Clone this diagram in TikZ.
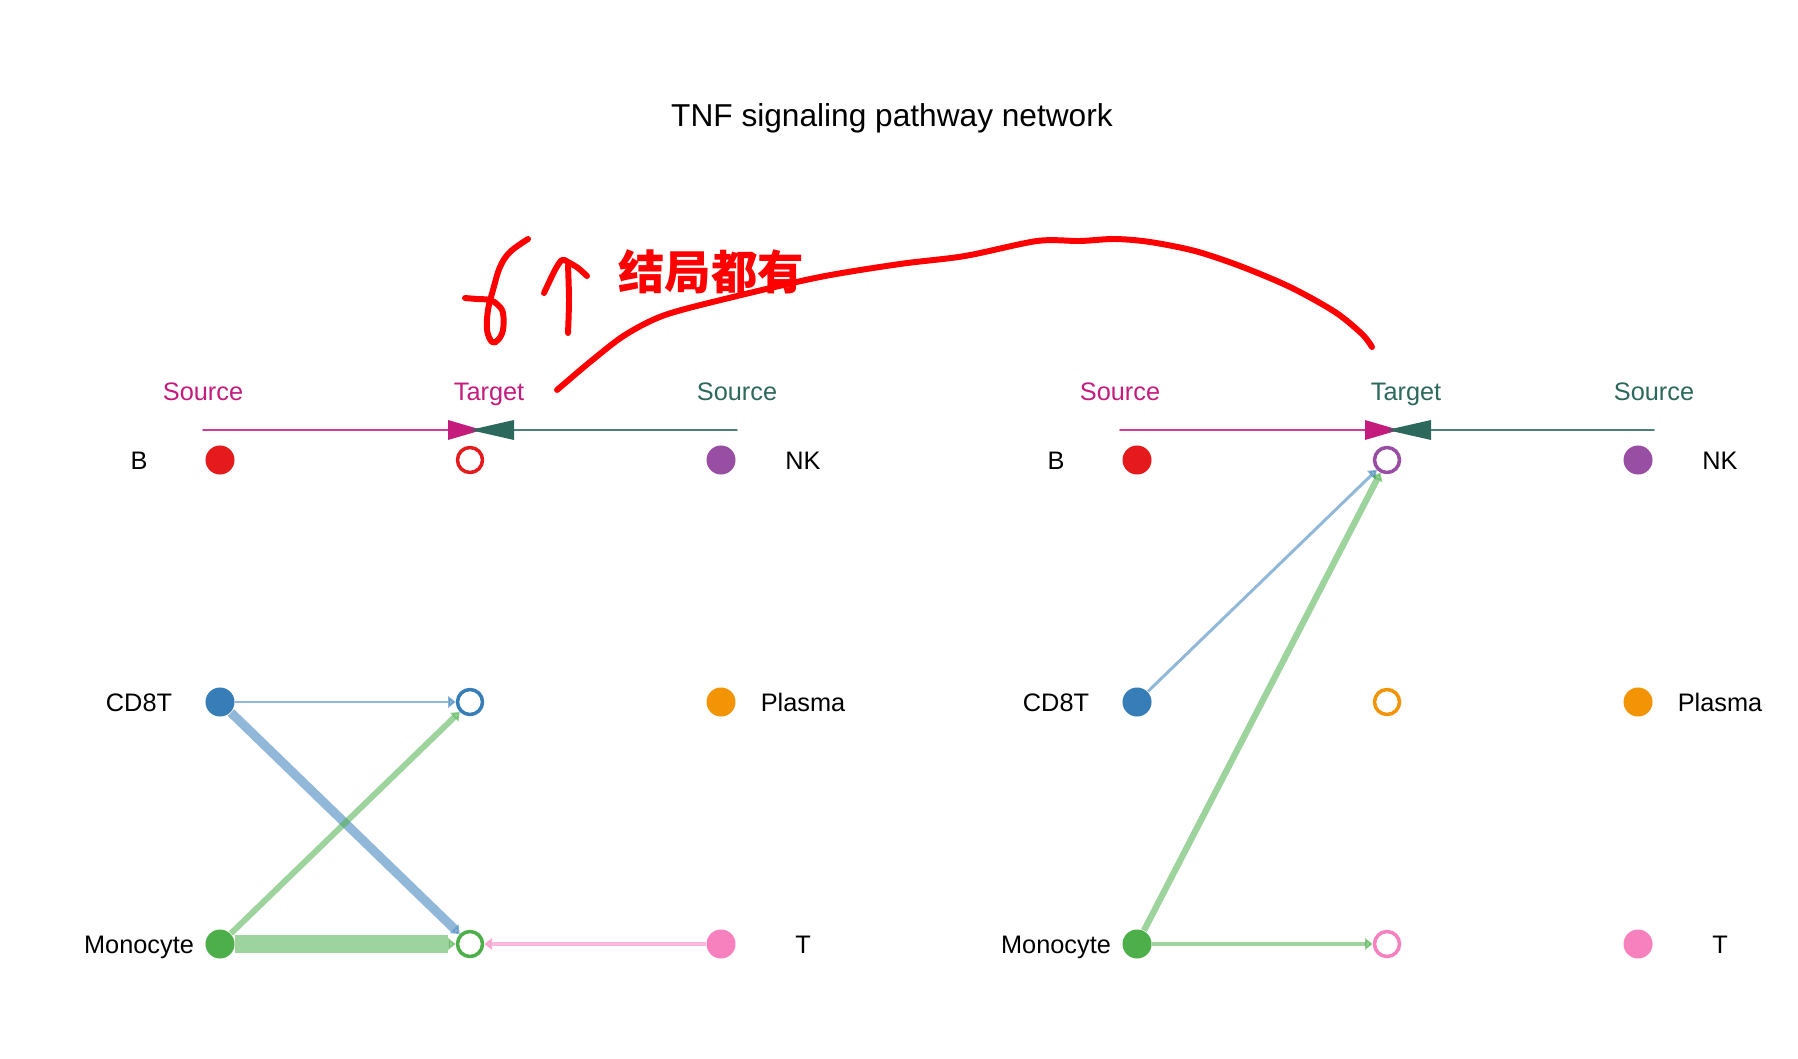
\documentclass[tikz,border=0pt]{standalone}
\usepackage{fontspec}
\setmainfont{Liberation Sans}
\newfontfamily\cjkfont{Noto Sans CJK SC}
\usetikzlibrary{arrows.meta}
\definecolor{cB}{HTML}{E41A1C}
\definecolor{cCD}{HTML}{377EB8}
\definecolor{cMo}{HTML}{4DAF4A}
\definecolor{cNK}{HTML}{984EA3}
\definecolor{cPl}{HTML}{F29403}
\definecolor{cT}{HTML}{F781BF}
\definecolor{srcmag}{HTML}{C51B7D}
\definecolor{srcteal}{HTML}{2C685C}
\begin{document}
\begin{tikzpicture}[x=0.01cm, y=-0.01cm, line join=round, line cap=round,
	font=\fontsize{7.2}{8.6}\selectfont,
	lab/.style={anchor=base, inner sep=0pt},
	src/.style={circle, fill=#1, minimum size=0.29cm, inner sep=0pt},
	tgt/.style={circle, draw=#1, fill=white, line width=1pt, minimum size=0.25cm, inner sep=0pt},
	link/.style={draw=#1, opacity=0.55, line cap=butt, -{Triangle[length=2.2pt,width=3.4pt]}},
	hand/.style={red, line width=1.7pt}]
	\useasboundingbox (0,0) rectangle (1798,1058);
	\def\dx{917} % right panel shift
	\node[anchor=base, font=\fontsize{9}{11}\selectfont] (title) at (892,127) {TNF signaling pathway network};
	% headers, left
	\node[lab, text=srcmag] (hs1) at (203,400) {Source};
	\node[lab, text=srcmag] (ht1) at (489,400) {Target};
	\node[lab, text=srcteal] (hr1) at (737,400) {Source};
	\coordinate (ml1) at (203,430); \coordinate (mt1) at (448,430);
	\coordinate (rl1) at (737,430); \coordinate (rt1) at (514,430);
	\draw[srcmag!85, line width=0.5pt] (ml1)--(mt1);
	\fill[srcmag] (448,420)--(482,430)--(448,440)--cycle;
	\draw[srcteal!85, line width=0.5pt] (rl1)--(rt1);
	\fill[srcteal] (514,420)--(470,430)--(514,440)--cycle;
	% headers, right
	\node[lab, text=srcmag] (hs2) at (203+\dx,400) {Source};
	\node[lab, text=srcteal] (ht2) at (489+\dx,400) {Target};
	\node[lab, text=srcteal] (hr2) at (737+\dx,400) {Source};
	\coordinate (ml2) at (203+\dx,430); \coordinate (mt2) at (448+\dx,430);
	\coordinate (rl2) at (737+\dx,430); \coordinate (rt2) at (514+\dx,430);
	\draw[srcmag!85, line width=0.5pt] (ml2)--(mt2);
	\fill[srcmag] (448+\dx,420)--(482+\dx,430)--(448+\dx,440)--cycle;
	\draw[srcteal!85, line width=0.5pt] (rl2)--(rt2);
	\fill[srcteal] (514+\dx,420)--(470+\dx,430)--(514+\dx,440)--cycle;
	% left panel
	\node[lab] (lB1) at (139,469) {B};
	\node[src=cB] (sB1) at (220,460) {};
	\node[tgt=cB] (tB1) at (470,460) {};
	\node[src=cNK] (sNK1) at (721,460) {};
	\node[lab] (lNK1) at (803,469) {NK};
	\node[lab] (lCD1) at (139,711) {CD8T};
	\node[src=cCD] (sCD1) at (220,702) {};
	\node[tgt=cCD] (tCD1) at (470,702) {};
	\node[src=cPl] (sPl1) at (721,702) {};
	\node[lab] (lPl1) at (803,711) {Plasma};
	\node[lab] (lMo1) at (139,953) {Monocyte};
	\node[src=cMo] (sMo1) at (220,944) {};
	\node[tgt=cMo] (tMo1) at (470,944) {};
	\node[src=cT] (sT1) at (721,944) {};
	\node[lab] (lT1) at (803,953) {T};
	\draw[link=cCD, line width=0.7pt] (sCD1)--(tCD1);
	\draw[link=cCD, line width=2.6pt] (sCD1)--(tMo1);
	\draw[link=cMo, line width=1.7pt] (sMo1)--(tCD1);
	\draw[link=cMo, line width=4.9pt] (sMo1)--(tMo1);
	\draw[link=cT, line width=0.9pt] (sT1)--(tMo1);
	% right panel
	\node[lab] (lB2) at (139+\dx,469) {B};
	\node[src=cB] (sB2) at (220+\dx,460) {};
	\node[tgt=cNK] (tNK2) at (470+\dx,460) {};
	\node[src=cNK] (sNK2) at (721+\dx,460) {};
	\node[lab] (lNK2) at (803+\dx,469) {NK};
	\node[lab] (lCD2) at (139+\dx,711) {CD8T};
	\node[src=cCD] (sCD2) at (220+\dx,702) {};
	\node[tgt=cPl] (tPl2) at (470+\dx,702) {};
	\node[src=cPl] (sPl2) at (721+\dx,702) {};
	\node[lab] (lPl2) at (803+\dx,711) {Plasma};
	\node[lab] (lMo2) at (139+\dx,953) {Monocyte};
	\node[src=cMo] (sMo2) at (220+\dx,944) {};
	\node[tgt=cT] (tT2) at (470+\dx,944) {};
	\node[src=cT] (sT2) at (721+\dx,944) {};
	\node[lab] (lT2) at (803+\dx,953) {T};
	\draw[link=cCD, line width=0.85pt] (sCD2)--(tNK2);
	\draw[link=cMo, line width=1.8pt] (sMo2)--(tNK2);
	\draw[link=cMo, line width=1pt] (sMo2)--(tT2);
	% red notes
	\node[text=red, font=\cjkfont\bfseries\fontsize{13.2}{15}\selectfont] (note) at (711,272) {结局都有};
	\draw[hand] plot[smooth, tension=0.6] coordinates {(528,239) (510,252) (500,267) (493,290) (488,310) (487,330) (492,342) (498,340) (503,330) (503,313) (498,305) (490,300) (477,299) (465,298)};
	\draw[hand] plot[smooth] coordinates {(544,293) (555,270) (562,260) (568,262) (578,268) (587,276)};
	\draw[hand] plot[smooth] coordinates {(568,265) (569,300) (568,333)};
	\draw[hand] plot[smooth] coordinates {(557,390) (590,362) (625,335) (665,315) (733,297) (820,277) (900,264) (965,256) (1037,241) (1080,241) (1115,239) (1150,242) (1195,251) (1240,266) (1290,287) (1335,312) (1362,334) (1372,347)};
\end{tikzpicture}
\end{document}
